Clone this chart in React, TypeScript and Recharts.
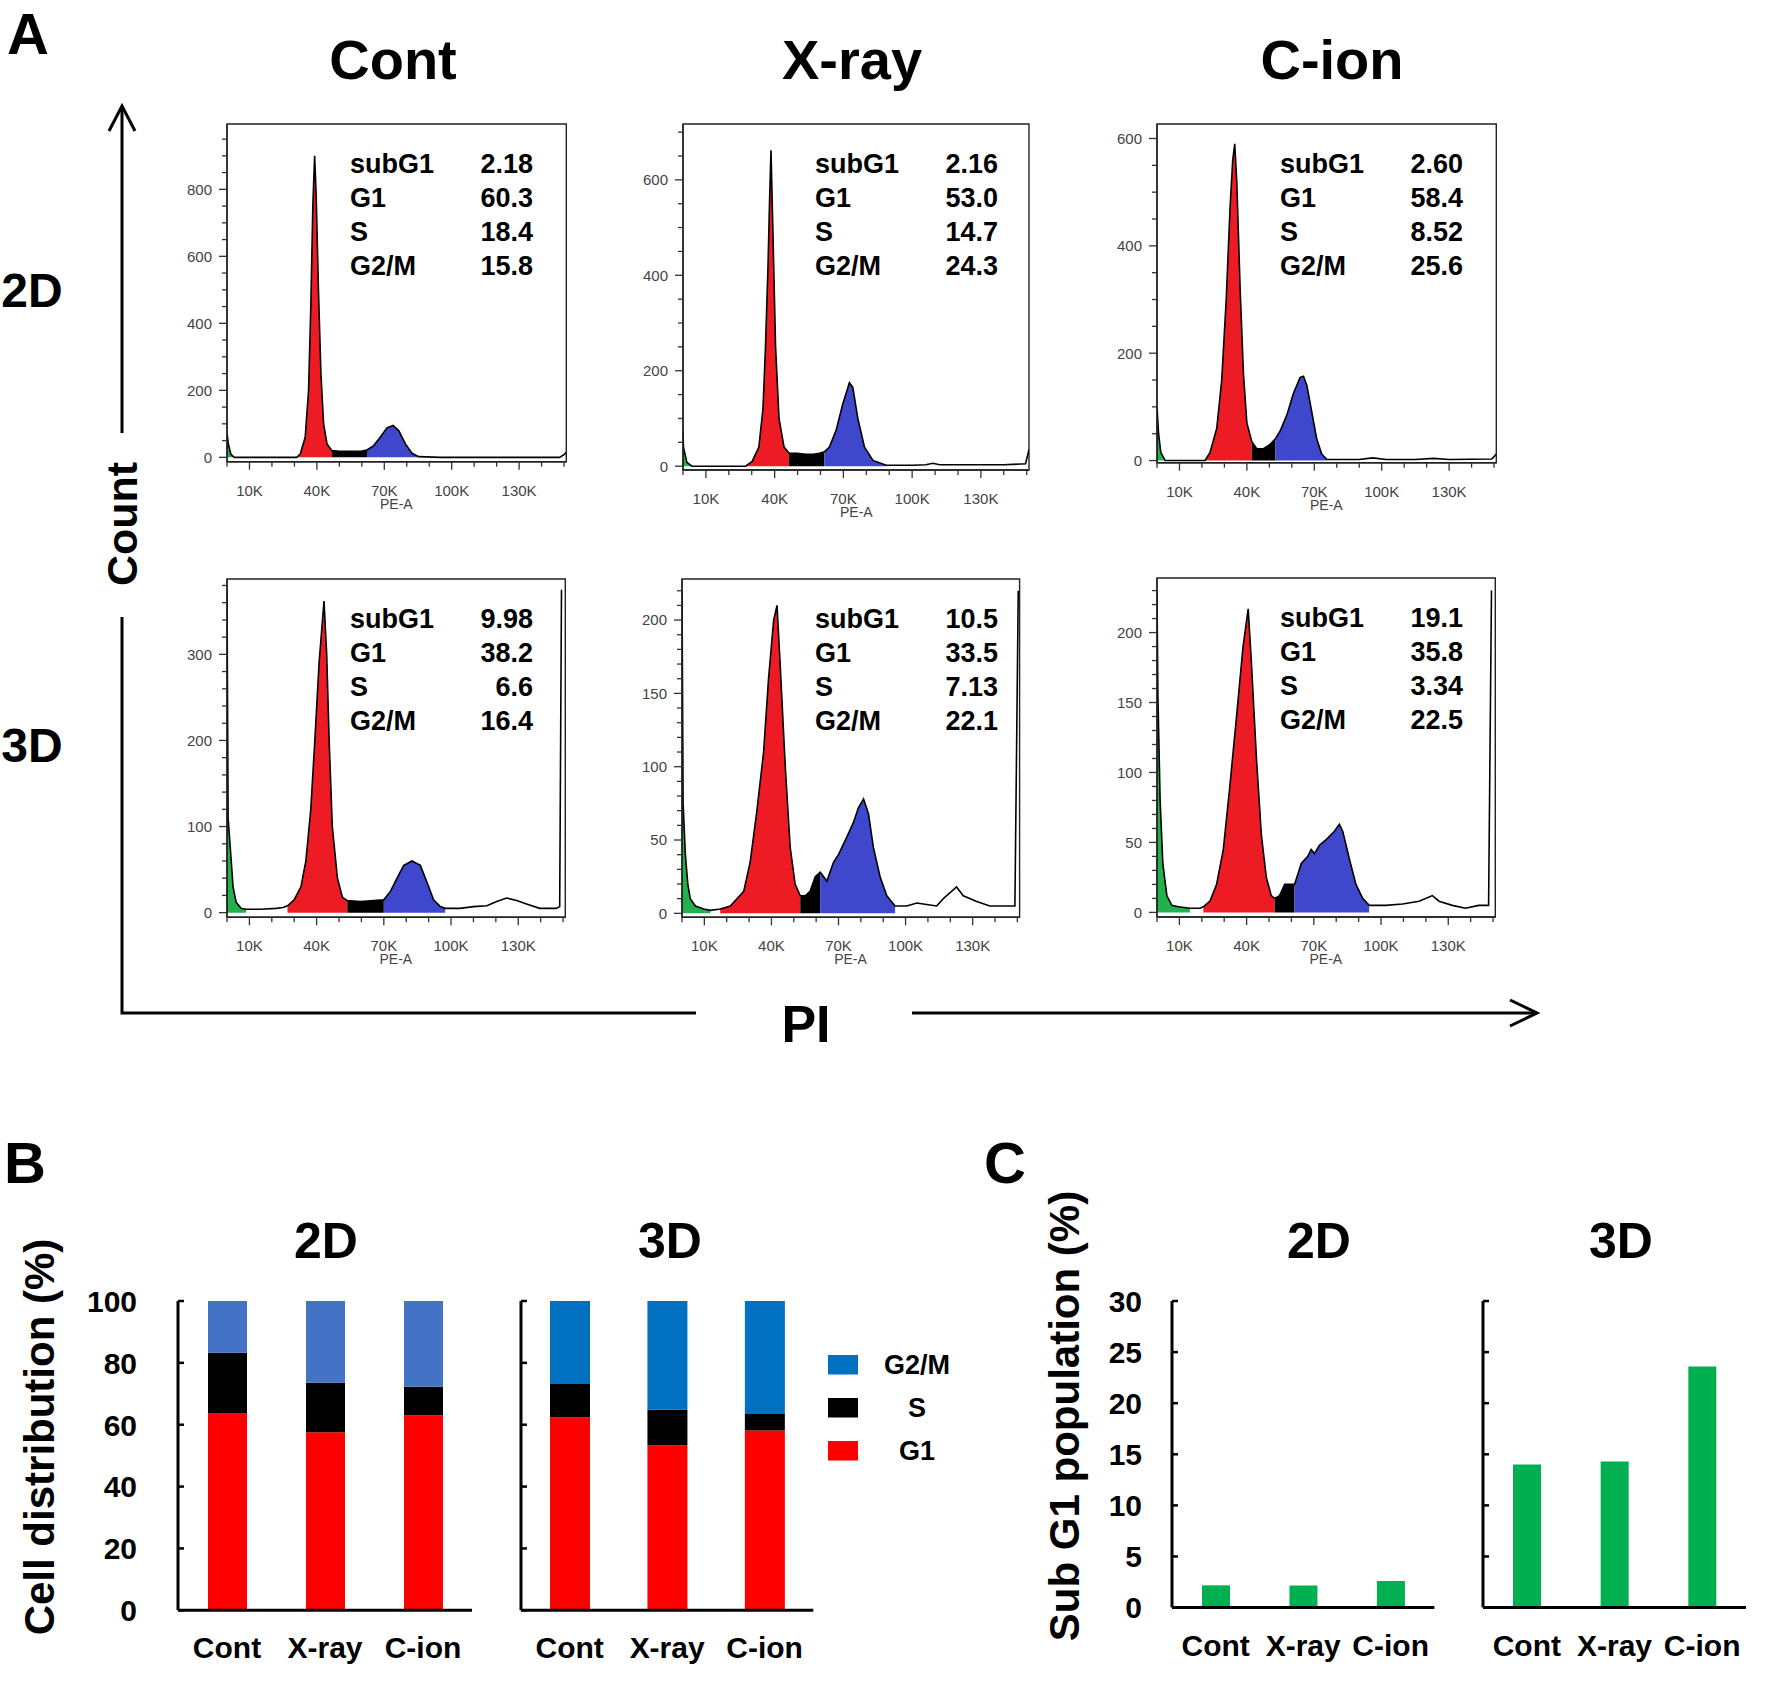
import React from "react";
import { ComposedChart, Area, Line, XAxis, YAxis, ReferenceArea, BarChart, Bar } from "recharts";

type Pt = [number, number];

const FONT = "'Liberation Sans', Arial, Helvetica, sans-serif";
const NARROW = "'Liberation Sans Narrow', 'Arial Narrow', sans-serif";

// ---- panel A: PI histograms, [PE-A (K), count] ----
const HIST_2D_CONT: Pt[] = [
  [0, 72], [0.6, 40], [1.7, 10], [3.2, 0], [10, 0], [20, 0], [31, 0], [32.6, 10], [34.8, 60],
  [36.3, 200], [37.3, 450], [38.2, 750], [39, 900], [39.7, 780], [40.7, 500], [41.8, 250], [43, 100],
  [44.5, 40], [46.7, 20], [50, 18], [55, 18], [60, 19], [62.3, 22], [65.3, 35], [68.2, 60], [71.2, 88],
  [73.9, 95], [76.4, 80], [79.4, 40], [82.3, 12], [85.3, 2], [95, 0], [110, 0], [130, 0], [148, 0],
  [150, 8], [151, 15],
];
const HIST_2D_XRAY: Pt[] = [
  [0, 72], [0.2, 40], [1.7, 8], [3.9, 0], [15, 0], [27.3, 0], [30.2, 10], [33.1, 40], [34.9, 120],
  [36, 250], [37.1, 420], [37.8, 560], [38.4, 662], [39.3, 480], [40.4, 250], [41.9, 100], [44.1, 40],
  [46.3, 27], [50, 27], [53.6, 25], [57, 25], [59.5, 27], [61.7, 30], [63.9, 40], [66.8, 75],
  [69.7, 130], [72.6, 175], [74.1, 165], [76.3, 100], [79.2, 40], [82.9, 12], [88.7, 2], [100, 2],
  [106, 3], [109, 6], [112, 3], [125, 3], [140, 3], [149.5, 5], [151, 35],
];
const HIST_2D_CION: Pt[] = [
  [0, 100], [0.7, 50], [1.7, 15], [3.6, 0], [12, 0], [21.4, 0], [23.6, 15], [26.6, 60], [28.8, 150],
  [30.8, 300], [32.5, 470], [33.7, 560], [34.6, 590], [35.5, 520], [37, 320], [38.5, 160], [40, 70],
  [42.2, 35], [44.4, 22], [47.4, 22], [50.3, 30], [52.6, 40], [54.8, 55], [57.8, 85], [60.7, 125],
  [63.7, 155], [65.2, 157], [66.7, 140], [68.9, 90], [71.1, 40], [73.3, 12], [75.6, 2], [90, 2],
  [96, 5], [102, 2], [115, 2], [123, 4], [130, 2], [149, 3], [151, 12],
];
const HIST_3D_CONT: Pt[] = [
  [0, 375], [0.5, 110], [1.9, 60], [2.7, 30], [4.1, 12], [6.3, 5], [8.5, 4], [15, 4], [22, 5],
  [25, 6], [27, 8], [30, 15], [33, 30], [35.2, 60], [37.4, 120], [39.2, 200], [41.1, 290], [43.3, 362],
  [44.5, 300], [45.6, 200], [47, 100], [49.3, 40], [51.5, 18], [53.7, 14], [59.6, 13], [65.5, 14],
  [70, 15], [73, 25], [75.9, 40], [78.9, 55], [82.6, 60], [86.3, 55], [89.3, 35], [92.2, 15],
  [95.2, 7], [97.4, 5], [104, 5], [110, 7], [116, 8], [120.4, 13], [124.8, 17], [129.3, 14],
  [133.7, 10], [139.6, 5], [147, 5], [148.5, 7], [149.3, 375],
];
const HIST_3D_XRAY: Pt[] = [
  [0, 220], [0.5, 75], [1.5, 40], [2.6, 20], [3.7, 10], [6, 5], [9.7, 3], [12.7, 2], [17.1, 3],
  [21.6, 5], [24.6, 10], [27.6, 15], [30.5, 35], [33.5, 70], [36.5, 110], [38.7, 160], [41, 200],
  [42.5, 210], [43.9, 170], [46.2, 100], [48.4, 45], [50.6, 20], [52.9, 12], [55.1, 12], [57.3, 15],
  [59.6, 25], [61.8, 28], [64.8, 22], [67.8, 35], [70, 40], [73.7, 52], [76.7, 62], [78.9, 72],
  [81.2, 78], [83.4, 68], [85.6, 45], [88.6, 25], [91.6, 12], [95.3, 5], [100.5, 5], [105, 7],
  [109.4, 6], [113.9, 5], [116.9, 10], [122.8, 18], [125.8, 12], [131.8, 8], [137.7, 5], [142.2, 5],
  [148.9, 5], [150.4, 220],
];
const HIST_3D_CION: Pt[] = [
  [0, 230], [0.4, 155], [1.4, 80], [2.6, 35], [4.4, 12], [6.6, 5], [9.6, 4], [14.7, 3], [19.2, 3],
  [20.7, 4], [23.6, 8], [26.6, 20], [29.6, 45], [32.5, 90], [35.5, 140], [38.4, 190], [40.7, 217],
  [42.1, 180], [44.4, 110], [46.6, 55], [48.8, 25], [51, 12], [52.5, 10], [54.7, 12], [57, 20],
  [59.2, 20], [61.4, 20], [64.4, 35], [67.3, 40], [68.8, 45], [70.3, 42], [72.5, 48], [75.5, 52],
  [79.2, 58], [81.4, 63], [82.9, 58], [85.9, 38], [88.8, 20], [91.8, 10], [94.7, 5], [102.1, 5],
  [109.6, 6], [117, 8], [122.9, 12], [125.9, 8], [131.8, 5], [137.7, 3], [143.6, 5], [148, 5],
  [149.3, 230],
];

// gates: [subG1 end, G1 start, S start, G2/M start, G2/M end]
const GATES_2D_CONT = [3.2, 31, 46.7, 62.3, 85.3];
const GATES_2D_XRAY = [3.9, 27.3, 46.3, 61.7, 88.7];
const GATES_2D_CION = [3.6, 21.4, 42.2, 52.6, 75.6];
const GATES_3D_CONT = [8.5, 27, 53.7, 70, 97.4];
const GATES_3D_XRAY = [12.7, 17.1, 52.9, 61.8, 95.3];
const GATES_3D_CION = [14.7, 20.7, 52.5, 61.4, 94.7];

const STAT_NAMES = ["subG1", "G1", "S", "G2/M"];
const STATS_2D_CONT = ["2.18", "60.3", "18.4", "15.8"];
const STATS_2D_XRAY = ["2.16", "53.0", "14.7", "24.3"];
const STATS_2D_CION = ["2.60", "58.4", "8.52", "25.6"];
const STATS_3D_CONT = ["9.98", "38.2", "6.6", "16.4"];
const STATS_3D_XRAY = ["10.5", "33.5", "7.13", "22.1"];
const STATS_3D_CION = ["19.1", "35.8", "3.34", "22.5"];

const X_TICKS = [0, 10, 20, 30, 40, 50, 60, 70, 80, 90, 100, 110, 120, 130, 140, 150];
const X_LABELS = [10, 40, 70, 100, 130];

// ---- panels B / C ----
const CONDITIONS = ["Cont", "X-ray", "C-ion"];
const B_2D_G1 = [63.8, 57.6, 63.1];
const B_2D_S = [19.5, 16.0, 9.2];
const B_2D_G2M = [16.7, 26.4, 27.7];
const B_3D_G1 = [62.4, 53.4, 58.1];
const B_3D_S = [10.8, 11.4, 5.4];
const B_3D_G2M = [26.8, 35.2, 36.5];
const B_TICKS = [0, 20, 40, 60, 80, 100];

const SUBG1_2D = [2.18, 2.16, 2.6];
const SUBG1_3D = [14.0, 14.3, 23.6];
const C_TICKS = [0, 5, 10, 15, 20, 25, 30];

const GREEN = "#22B14C";
const RED = "#ED1C24";
const BLUE = "#3F48CC";

type Panel = {
  data: Pt[];
  gates: number[];
  stats: string[];
  yMin: number;
  yMax: number;
  yStep: number;
  yLabels: number[];
  box: [number, number, number, number];
  labelX: number;
  valueX: number;
};

const PANELS: Panel[] = [
  { data: HIST_2D_CONT, gates: GATES_2D_CONT, stats: STATS_2D_CONT, yMin: -13, yMax: 995, yStep: 50, yLabels: [0, 200, 400, 600, 800], box: [226.7, 124, 566, 461.7], labelX: 350, valueX: 533 },
  { data: HIST_2D_XRAY, gates: GATES_2D_XRAY, stats: STATS_2D_XRAY, yMin: -8, yMax: 717, yStep: 50, yLabels: [0, 200, 400, 600], box: [683.3, 124, 1029.3, 470], labelX: 815, valueX: 998 },
  { data: HIST_2D_CION, gates: GATES_2D_CION, stats: STATS_2D_CION, yMin: -4, yMax: 627, yStep: 50, yLabels: [0, 200, 400, 600], box: [1156.7, 124, 1496, 462.7], labelX: 1280, valueX: 1463 },
  { data: HIST_3D_CONT, gates: GATES_3D_CONT, stats: STATS_3D_CONT, yMin: -5.4, yMax: 387.5, yStep: 20, yLabels: [0, 100, 200, 300], box: [226.7, 579, 565, 917.3], labelX: 350, valueX: 533 },
  { data: HIST_3D_XRAY, gates: GATES_3D_XRAY, stats: STATS_3D_XRAY, yMin: -2.7, yMax: 228, yStep: 10, yLabels: [0, 50, 100, 150, 200], box: [681.7, 579, 1019.3, 917.3], labelX: 815, valueX: 998 },
  { data: HIST_3D_CION, gates: GATES_3D_CION, stats: STATS_3D_CION, yMin: -3.3, yMax: 239, yStep: 10, yLabels: [0, 50, 100, 150, 200], box: [1156.7, 578.3, 1495, 917.3], labelX: 1280, valueX: 1463 },
];

const Y_W = 60;
const X_H = 60;

function buildRows(points: Pt[], g: number[]) {
  return points.map(([x, y]) => ({
    x,
    y,
    sub: x <= g[0] ? y : null,
    g1: x >= g[1] && x <= g[2] ? y : null,
    s: x >= g[2] && x <= g[3] ? y : null,
    g2: x >= g[3] && x <= g[4] ? y : null,
  }));
}

function stepTicks(max: number, step: number) {
  const out: number[] = [];
  for (let v = 0; v <= max; v += step) out.push(v);
  return out;
}

const HistXTick = (p: any) => {
  const major = X_LABELS.includes(p.payload.value);
  return (
    <g>
      <line x1={p.x} x2={p.x} y1={p.y} y2={p.y + (major ? 8 : 5)} stroke="#333" strokeWidth={1.3} />
      {major && (
        <text x={p.x} y={p.y + 34} textAnchor="middle" fontSize={15} fill="#444" fontFamily={FONT}>
          {p.payload.value}K
        </text>
      )}
    </g>
  );
};

const histYTick = (labels: number[]) => (p: any) => {
  const major = labels.includes(p.payload.value);
  return (
    <g>
      <line x1={p.x - (major ? 8 : 5)} x2={p.x} y1={p.y} y2={p.y} stroke="#333" strokeWidth={1.3} />
      {major && (
        <text x={p.x - 15} y={p.y} dy="0.36em" textAnchor="end" fontSize={15} fill="#444" fontFamily={FONT}>
          {p.payload.value}
        </text>
      )}
    </g>
  );
};

function HistPanel({ cfg }: { cfg: Panel }) {
  const [l, t, r, b] = cfg.box;
  const rows = buildRows(cfg.data, cfg.gates);
  const areaProps = {
    type: "linear" as const,
    stroke: "none",
    fillOpacity: 1,
    baseValue: 0,
    connectNulls: false,
    isAnimationActive: false,
    dot: false,
    activeDot: false,
  };
  return (
    <div style={{ position: "absolute", left: l - Y_W, top: t - 2 }}>
      <ComposedChart
        width={r - l + Y_W + 2}
        height={b - t + 2 + X_H}
        data={rows}
        margin={{ top: 2, right: 2, bottom: 0, left: 0 }}
      >
        <XAxis
          type="number"
          dataKey="x"
          domain={[0, 151]}
          ticks={X_TICKS}
          interval={0}
          allowDataOverflow
          tickLine={false}
          tickSize={0}
          tickMargin={0}
          height={X_H}
          axisLine={{ stroke: "#222", strokeWidth: 1.4 }}
          tick={HistXTick}
        />
        <YAxis
          type="number"
          domain={[cfg.yMin, cfg.yMax]}
          ticks={stepTicks(cfg.yMax, cfg.yStep)}
          interval={0}
          allowDataOverflow
          tickLine={false}
          tickSize={0}
          tickMargin={0}
          width={Y_W}
          axisLine={{ stroke: "#222", strokeWidth: 1.4 }}
          tick={histYTick(cfg.yLabels)}
        />
        <Area dataKey="sub" fill={GREEN} {...areaProps} />
        <Area dataKey="g1" fill={RED} {...areaProps} />
        <Area dataKey="s" fill="#000" {...areaProps} />
        <Area dataKey="g2" fill={BLUE} {...areaProps} />
        <Line dataKey="y" type="linear" stroke="#000" strokeWidth={1.6} dot={false} activeDot={false} isAnimationActive={false} />
        <ReferenceArea x1={0} x2={151} y1={cfg.yMin} y2={cfg.yMax} fill="none" stroke="#222" strokeWidth={1.4} ifOverflow="visible" />
      </ComposedChart>
    </div>
  );
}

type Series = { key: string; color: string; values: number[] };

const catTick = (p: any) => (
  <text x={p.x} y={p.y + 48} textAnchor="middle" fontSize={30} fontWeight="bold" fontFamily={FONT}>
    {p.payload.value}
  </text>
);

const barYTick = (show: boolean, offset: number) => (p: any) => (
  <g>
    <line x1={p.x} x2={p.x + 6} y1={p.y} y2={p.y} stroke="#000" strokeWidth={2.5} />
    {show && (
      <text x={p.x - offset} y={p.y} dy="0.36em" textAnchor="end" fontSize={30} fontWeight="bold" fontFamily={FONT}>
        {p.payload.value}
      </text>
    )}
  </g>
);

function BarPanel(props: {
  series: Series[];
  yMax: number;
  ticks: number[];
  axisX: number;
  right: number;
  top: number;
  bottom: number;
  barSize: number;
  showLabels: boolean;
  labelOffset: number;
}) {
  const { series, axisX, right, top, bottom } = props;
  const rows = CONDITIONS.map((name, i) => {
    const row: Record<string, any> = { name };
    series.forEach((s) => (row[s.key] = s.values[i]));
    return row;
  });
  const YW = 120;
  const TOP = 24;
  return (
    <div style={{ position: "absolute", left: axisX - YW, top: top - TOP }}>
      <BarChart
        width={YW + (right - axisX) + 10}
        height={TOP + (bottom - top) + 70}
        data={rows}
        margin={{ top: TOP, right: 10, bottom: 0, left: 0 }}
      >
        <XAxis
          dataKey="name"
          type="category"
          interval={0}
          tickLine={false}
          tickSize={0}
          tickMargin={0}
          height={70}
          axisLine={{ stroke: "#000", strokeWidth: 3 }}
          tick={catTick}
        />
        <YAxis
          type="number"
          domain={[0, props.yMax]}
          ticks={props.ticks}
          interval={0}
          tickLine={false}
          tickSize={0}
          tickMargin={0}
          width={YW}
          axisLine={{ stroke: "#000", strokeWidth: 3 }}
          tick={barYTick(props.showLabels, props.labelOffset)}
        />
        {series.map((s) => (
          <Bar key={s.key} dataKey={s.key} stackId="a" fill={s.color} barSize={props.barSize} isAnimationActive={false} />
        ))}
      </BarChart>
    </div>
  );
}

const LEGEND = [
  { name: "G2/M", color: "#0070C0" },
  { name: "S", color: "#000000" },
  { name: "G1", color: "#FF0000" },
];

export default function App() {
  const T = (x: number, y: number, s: string, size: number, extra: any = {}) => (
    <text x={x} y={y} fontSize={size} fontWeight="bold" fontFamily={FONT} textAnchor="middle" {...extra}>
      {s}
    </text>
  );
  return (
    <div style={{ position: "absolute", left: 0, top: 0, width: 1770, height: 1686, background: "#fff", overflow: "hidden" }}>
      {PANELS.map((p, i) => (
        <HistPanel key={i} cfg={p} />
      ))}

      <BarPanel
        series={[
          { key: "g1", color: "#FF0000", values: B_2D_G1 },
          { key: "s", color: "#000000", values: B_2D_S },
          { key: "g2", color: "#4472C4", values: B_2D_G2M },
        ]}
        yMax={100}
        ticks={B_TICKS}
        axisX={178}
        right={472}
        top={1300.7}
        bottom={1610}
        barSize={39}
        showLabels
        labelOffset={41}
      />
      <BarPanel
        series={[
          { key: "g1", color: "#FF0000", values: B_3D_G1 },
          { key: "s", color: "#000000", values: B_3D_S },
          { key: "g2", color: "#0070C0", values: B_3D_G2M },
        ]}
        yMax={100}
        ticks={B_TICKS}
        axisX={520.7}
        right={813}
        top={1300.7}
        bottom={1610}
        barSize={40}
        showLabels={false}
        labelOffset={41}
      />
      <BarPanel
        series={[{ key: "v", color: "#00B050", values: SUBG1_2D }]}
        yMax={30}
        ticks={C_TICKS}
        axisX={1171.8}
        right={1434.2}
        top={1300.7}
        bottom={1607.3}
        barSize={28}
        showLabels
        labelOffset={30}
      />
      <BarPanel
        series={[{ key: "v", color: "#00B050", values: SUBG1_3D }]}
        yMax={30}
        ticks={C_TICKS}
        axisX={1483.2}
        right={1746.2}
        top={1300.7}
        bottom={1607.3}
        barSize={28}
        showLabels={false}
        labelOffset={30}
      />

      <svg width={1770} height={1686} style={{ position: "absolute", left: 0, top: 0, pointerEvents: "none" }}>
        {T(28, 54, "A", 58)}
        {T(393, 79, "Cont", 56)}
        {T(852, 79, "X-ray", 56)}
        {T(1332, 79, "C-ion", 56)}
        {T(32, 307, "2D", 48)}
        {T(32, 762, "3D", 48)}

        <g stroke="#000" strokeWidth={3} fill="none">
          <line x1={122} y1={107} x2={122} y2={433} />
          <polyline points="109,131 122,106 135,131" />
          <polyline points="122,617 122,1013 696,1013" />
          <line x1={912} y1={1013} x2={1536} y2={1013} />
          <polyline points="1510,1000 1537,1013 1510,1026" />
        </g>
        {T(0, 0, "Count", 43, { transform: "translate(137,524) rotate(-90)" })}
        <text x={806} y={1042} fontSize={52} fontWeight="bold" fontFamily={NARROW} textAnchor="middle">
          PI
        </text>

        {PANELS.map((p, i) => (
          <g key={i}>
            {STAT_NAMES.map((n, j) => (
              <g key={n}>
                <text x={p.labelX} y={p.box[1] + 49 + j * 34} fontSize={27} fontWeight="bold" fontFamily={FONT}>
                  {n}
                </text>
                <text x={p.valueX} y={p.box[1] + 49 + j * 34} fontSize={27} fontWeight="bold" fontFamily={FONT} textAnchor="end">
                  {p.stats[j]}
                </text>
              </g>
            ))}
            <text x={(p.box[0] + p.box[2]) / 2} y={p.box[3] + 47} fontSize={14} fill="#444" fontFamily={FONT} textAnchor="middle">
              PE-A
            </text>
          </g>
        ))}

        {T(25, 1183, "B", 58)}
        {T(1005, 1183, "C", 58)}
        {T(326, 1258, "2D", 50)}
        {T(670, 1258, "3D", 50)}
        {T(1319, 1258, "2D", 50)}
        {T(1621, 1258, "3D", 50)}
        {T(0, 0, "Cell distribution (%)", 42, { transform: "translate(54,1437) rotate(-90)" })}
        {T(0, 0, "Sub G1 population (%)", 42, { transform: "translate(1079,1416) rotate(-90)" })}

        {LEGEND.map((l, i) => (
          <g key={l.name}>
            <rect x={828} y={1355 + i * 43} width={30} height={19.5} fill={l.color} />
            {T(917, 1374 + i * 43, l.name, 27)}
          </g>
        ))}
      </svg>
    </div>
  );
}
